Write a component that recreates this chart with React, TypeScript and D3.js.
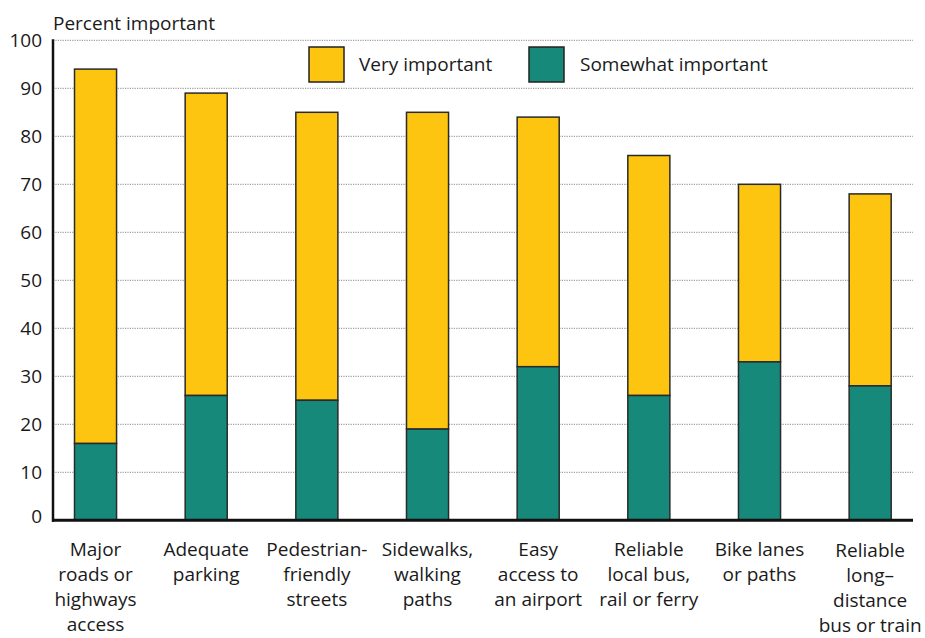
import React from "react";
import * as d3 from "d3";

const categories = [
  ["Major", "roads or", "highways", "access"],
  ["Adequate", "parking"],
  ["Pedestrian-", "friendly", "streets"],
  ["Sidewalks,", "walking", "paths"],
  ["Easy", "access to", "an airport"],
  ["Reliable", "local bus,", "rail or ferry"],
  ["Bike lanes", "or paths"],
  ["Reliable", "long\u2013", "distance", "bus or train"],
];
const totalImportant = [94, 89, 85, 85, 84, 76, 70, 68];
const somewhatImportant = [16, 26, 25, 19, 32, 26, 33, 28];
const yTicks = [0, 10, 20, 30, 40, 50, 60, 70, 80, 90, 100];
const seriesNames = ["Very important", "Somewhat important"];

const W = 925;
const H = 638;
const YELLOW = "#FDC50F";
const TEAL = "#17897B";
const FONT = "'Open Sans', 'Noto Sans', sans-serif";

export default function App() {
  const ids = categories.map((_, i) => String(i));
  const x = d3.scaleBand<string>().domain(ids).range([40.2, 925.5]).paddingInner(0.62).paddingOuter(0.31);
  const y = d3.scaleLinear().domain([0, 100]).range([520.3, 40.3]);
  const axisX0 = 53;
  const axisX1 = 913;

  return (
    <svg width={W} height={H} style={{ position: "absolute", left: 0, top: 0, background: "#fff" }} fontFamily={FONT}>
      <rect x={0} y={0} width={W} height={H} fill="#fff" />
      <text x={53} y={30} fontSize={19} fill="#1a1a1a">Percent important</text>
      {yTicks.map((t) => (
        <g key={t}>
          {t > 0 && (
            <line x1={axisX0} x2={axisX1} y1={y(t)} y2={y(t)} stroke="#888" strokeWidth={1} strokeDasharray="1.2,1.2" />
          )}
          <text x={42} y={y(t) - (t === 0 ? 4 : 0)} dy="0.35em" textAnchor="end" fontSize={19} fill="#1a1a1a">
            {t}
          </text>
        </g>
      ))}
      {/* legend */}
      <rect x={309} y={47} width={35} height={35} fill={YELLOW} stroke="#222" strokeWidth={1.5} />
      <text x={359} y={71} fontSize={19} fill="#1a1a1a">{seriesNames[0]}</text>
      <rect x={529} y={47} width={35} height={35} fill={TEAL} stroke="#222" strokeWidth={1.5} />
      <text x={580} y={71} fontSize={19} fill="#1a1a1a">{seriesNames[1]}</text>
      {/* bars */}
      {ids.map((id, i) => {
        const bx = x(id)!;
        const bw = x.bandwidth();
        return (
          <g key={id}>
            <rect x={bx} y={y(totalImportant[i])} width={bw} height={y(somewhatImportant[i]) - y(totalImportant[i])} fill={YELLOW} stroke="#2a2a2a" strokeWidth={1.5} />
            <rect x={bx} y={y(somewhatImportant[i])} width={bw} height={y(0) - y(somewhatImportant[i])} fill={TEAL} stroke="#2a2a2a" strokeWidth={1.5} />
            <text textAnchor="middle" fontSize={19} fill="#1a1a1a">
              {categories[i].map((line, j) => (
                <tspan key={j} x={bx + bw / 2} y={556 + j * 25 + (i === 7 ? 1 : 0)}>
                  {line}
                </tspan>
              ))}
            </text>
          </g>
        );
      })}
      {/* axes */}
      <line x1={axisX0} x2={axisX0} y1={y(100) - 1} y2={y(0) + 1.5} stroke="#111" strokeWidth={2.5} />
      <line x1={axisX0 - 1} x2={axisX1} y1={y(0)} y2={y(0)} stroke="#111" strokeWidth={3} />
    </svg>
  );
}
